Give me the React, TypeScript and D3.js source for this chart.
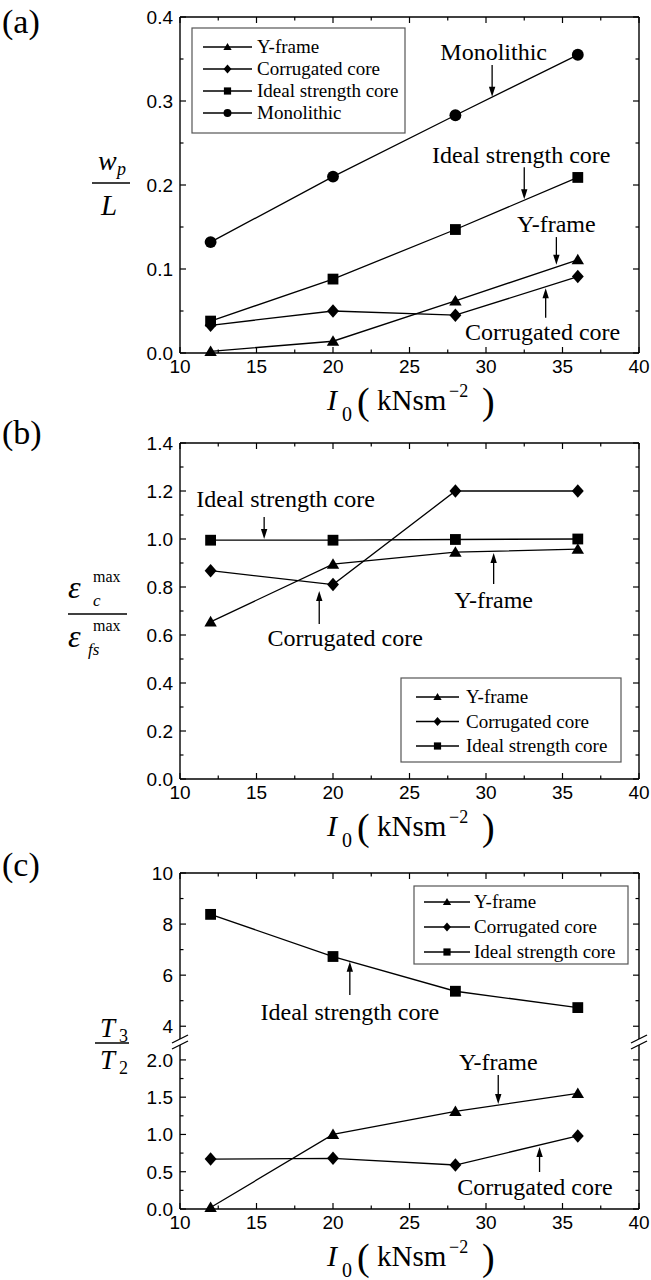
import React from 'react';
import * as d3 from 'd3';

// ---------- data ----------
const xValues = [12, 20, 28, 36];
const xTicks = [10, 15, 20, 25, 30, 35, 40];
const xMinorTicks = [12.5, 17.5, 22.5, 27.5, 32.5, 37.5];

// panel (a): w_p / L
const aYFrame = [0.002, 0.014, 0.062, 0.111];
const aCorrugated = [0.033, 0.05, 0.045, 0.091];
const aIdeal = [0.038, 0.088, 0.147, 0.209];
const aMonolithic = [0.132, 0.21, 0.283, 0.355];
const aYTicks = [0, 0.1, 0.2, 0.3, 0.4];
const aYMinor = [0.05, 0.15, 0.25, 0.35];

// panel (b): eps_c / eps_fs
const bYFrame = [0.655, 0.895, 0.945, 0.958];
const bCorrugated = [0.868, 0.81, 1.2, 1.2];
const bIdeal = [0.995, 0.995, 0.998, 1.0];
const bYTicks = [0, 0.2, 0.4, 0.6, 0.8, 1.0, 1.2, 1.4];
const bYMinor = [0.1, 0.3, 0.5, 0.7, 0.9, 1.1, 1.3];

// panel (c): T3 / T2 (broken axis)
const cIdeal = [8.38, 6.73, 5.37, 4.73];
const cYFrame = [0.02, 1.0, 1.31, 1.55];
const cCorrugated = [0.67, 0.68, 0.59, 0.98];
const cUpperTicks = [4, 6, 8, 10];
const cUpperMinor = [5, 7, 9];
const cLowerTicks = [0, 0.5, 1.0, 1.5, 2.0];
const cLowerMinor = [0.25, 0.75, 1.25, 1.75];

const seriesNames = ['Y-frame', 'Corrugated core', 'Ideal strength core', 'Monolithic'];
const markerTypes = ['triangle', 'diamond', 'square', 'circle'];

// ---------- styling ----------
const SERIF = "'Liberation Serif', 'Times New Roman', serif";
const SANS = "'Liberation Sans', Arial, sans-serif";
const X0 = 180;
const X1 = 639;

const xScale = d3.scaleLinear().domain([10, 40]).range([X0, X1]);

function Marker({ type, x, y, s }: { type: string; x: number; y: number; s: number }) {
  if (type === 'triangle') {
    const p = `M${x},${y - s * 1.1}L${x + s * 1.15},${y + s * 0.85}L${x - s * 1.15},${y + s * 0.85}Z`;
    return <path d={p} fill="#000" />;
  }
  if (type === 'diamond') {
    const p = `M${x},${y - s * 1.25}L${x + s * 1.1},${y}L${x},${y + s * 1.25}L${x - s * 1.1},${y}Z`;
    return <path d={p} fill="#000" />;
  }
  if (type === 'square') {
    return <rect x={x - s} y={y - s} width={2 * s} height={2 * s} fill="#000" />;
  }
  return <circle cx={x} cy={y} r={s * 1.1} fill="#000" />;
}

function Series({ values, yScale, type }: { values: number[]; yScale: any; type: string }) {
  const pts: [number, number][] = values.map((v, i) => [xScale(xValues[i]), yScale(v)]);
  const line = d3.line();
  return (
    <g>
      <path d={line(pts) || ''} fill="none" stroke="#000" strokeWidth={1.3} />
      {pts.map((p, i) => (
        <Marker key={i} type={type} x={p[0]} y={p[1]} s={5.4} />
      ))}
    </g>
  );
}

function Arrow({ x, y1, y2 }: { x: number; y1: number; y2: number }) {
  const dir = y2 > y1 ? 1 : -1;
  const hl = 10;
  const hw = 3.2;
  return (
    <g>
      <line x1={x} y1={y1} x2={x} y2={y2 - dir * hl * 0.8} stroke="#000" strokeWidth={1.3} />
      <path d={`M${x},${y2}L${x - hw},${y2 - dir * hl}L${x + hw},${y2 - dir * hl}Z`} fill="#000" />
    </g>
  );
}

type Ann = { label: string; tx: number; ty: number; ax: number; ay1: number; ay2: number };

function Annotations({ anns, yScale }: { anns: Ann[]; yScale: any }) {
  return (
    <g>
      {anns.map((a, i) => (
        <g key={i}>
          <text x={xScale(a.tx)} y={yScale(a.ty)} textAnchor="middle" fontFamily={SERIF} fontSize={24}>
            {a.label}
          </text>
          <Arrow x={xScale(a.ax)} y1={yScale(a.ay1)} y2={yScale(a.ay2)} />
        </g>
      ))}
    </g>
  );
}

function XAxis({ top, bottom }: { top: number; bottom: number }) {
  return (
    <g>
      {xTicks.map((t) => (
        <g key={'M' + t}>
          <line x1={xScale(t)} x2={xScale(t)} y1={bottom} y2={bottom - 6} stroke="#000" strokeWidth={1.2} />
          <line x1={xScale(t)} x2={xScale(t)} y1={top} y2={top + 6} stroke="#000" strokeWidth={1.2} />
          <text x={xScale(t)} y={bottom + 20} textAnchor="middle" fontFamily={SANS} fontSize={19}>
            {t}
          </text>
        </g>
      ))}
      {xMinorTicks.map((t) => (
        <g key={'m' + t}>
          <line x1={xScale(t)} x2={xScale(t)} y1={bottom} y2={bottom - 3.5} stroke="#000" strokeWidth={1.2} />
          <line x1={xScale(t)} x2={xScale(t)} y1={top} y2={top + 3.5} stroke="#000" strokeWidth={1.2} />
        </g>
      ))}
      <line x1={X0} x2={X1} y1={top} y2={top} stroke="#000" strokeWidth={1.4} />
      <line x1={X0} x2={X1} y1={bottom} y2={bottom} stroke="#000" strokeWidth={1.4} />
      <XTitle baseline={bottom + 57} />
    </g>
  );
}

function YAxis({ yScale, ticks, minor, fmt }: { yScale: any; ticks: number[]; minor: number[]; fmt: (v: number) => string }) {
  const [r0, r1] = yScale.range();
  return (
    <g>
      {ticks.map((t) => (
        <g key={'M' + t}>
          <line x1={X0} x2={X0 + 6} y1={yScale(t)} y2={yScale(t)} stroke="#000" strokeWidth={1.2} />
          <line x1={X1} x2={X1 - 6} y1={yScale(t)} y2={yScale(t)} stroke="#000" strokeWidth={1.2} />
          <text x={X0 - 7} y={yScale(t) + 7} textAnchor="end" fontFamily={SANS} fontSize={19}>
            {fmt(t)}
          </text>
        </g>
      ))}
      {minor.map((t) => (
        <g key={'m' + t}>
          <line x1={X0} x2={X0 + 3.5} y1={yScale(t)} y2={yScale(t)} stroke="#000" strokeWidth={1.2} />
          <line x1={X1} x2={X1 - 3.5} y1={yScale(t)} y2={yScale(t)} stroke="#000" strokeWidth={1.2} />
        </g>
      ))}
      <line x1={X0} x2={X0} y1={r0} y2={r1} stroke="#000" strokeWidth={1.4} />
      <line x1={X1} x2={X1} y1={r0} y2={r1} stroke="#000" strokeWidth={1.4} />
    </g>
  );
}

function XTitle({ baseline }: { baseline: number }) {
  const B = baseline;
  return (
    <g fontFamily={SERIF}>
      <text x={327} y={B} fontSize={30} fontStyle="italic">I</text>
      <text x={342} y={B + 11} fontSize={20}>0</text>
      <text x={357} y={B + 4} fontSize={38}>(</text>
      <text x={377} y={B} fontSize={29}>kNsm</text>
      <text x={449} y={B - 13} fontSize={18}>−2</text>
      <text x={482} y={B + 4} fontSize={38}>)</text>
    </g>
  );
}

function Legend({ x, y, w, h, rows, lineX0, lineX1, textX, names, types }: any) {
  return (
    <g>
      <rect x={x} y={y} width={w} height={h} fill="#fff" stroke="#555" strokeWidth={1.2} />
      {names.map((n: string, i: number) => (
        <g key={n}>
          <line x1={lineX0} x2={lineX1} y1={rows[i]} y2={rows[i]} stroke="#000" strokeWidth={1.3} />
          <Marker type={types[i]} x={(lineX0 + lineX1) / 2} y={rows[i]} s={3.6} />
          <text x={textX} y={rows[i] + 6} fontFamily={SERIF} fontSize={19}>
            {n}
          </text>
        </g>
      ))}
    </g>
  );
}

// ---------- panels ----------
function PanelA() {
  const top = 17, bottom = 353;
  const y = d3.scaleLinear().domain([0, 0.4]).range([bottom, top]);
  const anns: Ann[] = [
    { label: 'Monolithic', tx: 30.5, ty: 0.349, ax: 30.4, ay1: 0.343, ay2: 0.305 },
    { label: 'Ideal strength core', tx: 32.3, ty: 0.226, ax: 32.5, ay1: 0.221, ay2: 0.183 },
    { label: 'Y-frame', tx: 34.6, ty: 0.144, ax: 34.6, ay1: 0.138, ay2: 0.105 },
    { label: 'Corrugated core', tx: 33.7, ty: 0.0155, ax: 33.9, ay1: 0.042, ay2: 0.077 },
  ];
  return (
    <g>
      <text x={2} y={33} fontFamily={SERIF} fontSize={34}>(a)</text>
      <YAxis yScale={y} ticks={aYTicks} minor={aYMinor} fmt={(v) => v.toFixed(1)} />
      <XAxis top={top} bottom={bottom} />
      <Legend x={192} y={28} w={213} h={105} rows={[47, 69, 91, 113]} lineX0={203} lineX1={252} textX={257}
        names={seriesNames} types={markerTypes} />
      <Series values={aYFrame} yScale={y} type="triangle" />
      <Series values={aCorrugated} yScale={y} type="diamond" />
      <Series values={aIdeal} yScale={y} type="square" />
      <Series values={aMonolithic} yScale={y} type="circle" />
      <Annotations anns={anns} yScale={y} />
      <g fontFamily={SERIF} fontStyle="italic">
        <text x={98} y={170} fontSize={28}>w</text>
        <text x={117} y={175} fontSize={18}>p</text>
        <line x1={92} x2={130} y1={183} y2={183} stroke="#000" strokeWidth={1.3} />
        <text x={101} y={215} fontSize={29}>L</text>
      </g>
    </g>
  );
}

function PanelB() {
  const top = 443, bottom = 779;
  const y = d3.scaleLinear().domain([0, 1.4]).range([bottom, top]);
  const anns: Ann[] = [
    { label: 'Ideal strength core', tx: 16.9, ty: 1.133, ax: 15.5, ay1: 1.092, ay2: 1.0 },
    { label: 'Corrugated core', tx: 20.8, ty: 0.554, ax: 19.1, ay1: 0.646, ay2: 0.783 },
    { label: 'Y-frame', tx: 30.5, ty: 0.7125, ax: 30.5, ay1: 0.8125, ay2: 0.942 },
  ];
  return (
    <g>
      <text x={2} y={444} fontFamily={SERIF} fontSize={34}>(b)</text>
      <YAxis yScale={y} ticks={bYTicks} minor={bYMinor} fmt={(v) => v.toFixed(1)} />
      <XAxis top={top} bottom={bottom} />
      <Legend x={401} y={678} w={220} h={84} rows={[697, 721.5, 746]} lineX0={416} lineX1={459} textX={466}
        names={seriesNames.slice(0, 3)} types={markerTypes.slice(0, 3)} />
      <Series values={bYFrame} yScale={y} type="triangle" />
      <Series values={bCorrugated} yScale={y} type="diamond" />
      <Series values={bIdeal} yScale={y} type="square" />
      <Annotations anns={anns} yScale={y} />
      <g fontFamily={SERIF}>
        <text x={68} y={598} fontSize={32} fontStyle="italic">ε</text>
        <text x={93} y={582} fontSize={16}>max</text>
        <text x={93} y={606} fontSize={17} fontStyle="italic">c</text>
        <line x1={68} x2={127} y1={614} y2={614} stroke="#000" strokeWidth={1.3} />
        <text x={68} y={647} fontSize={32} fontStyle="italic">ε</text>
        <text x={93} y={631} fontSize={16}>max</text>
        <text x={88} y={655} fontSize={17} fontStyle="italic">fs</text>
      </g>
    </g>
  );
}

function PanelC() {
  const top = 873, bottom = 1209;
  const upTop = 873, upBot = 1039, loTop = 1045, loBot = 1209;
  const yUp = d3.scaleLinear().domain([3.5, 10]).range([upBot, upTop]);
  const yLo = d3.scaleLinear().domain([0, 2.2]).range([loBot, loTop]);
  const annsUp: Ann[] = [{ label: 'Ideal strength core', tx: 21.1, ty: 4.24, ax: 21.1, ay1: 5.22, ay2: 6.52 }];
  const annsLo: Ann[] = [
    { label: 'Y-frame', tx: 30.8, ty: 1.865, ax: 30.8, ay1: 1.797, ay2: 1.408 },
    { label: 'Corrugated core', tx: 33.2, ty: 0.188, ax: 33.5, ay1: 0.496, ay2: 0.832 },
  ];
  const breaks = [upBot, loTop];
  return (
    <g>
      <text x={2} y={876} fontFamily={SERIF} fontSize={34}>(c)</text>
      <YAxis yScale={yUp} ticks={cUpperTicks} minor={cUpperMinor} fmt={(v) => String(v)} />
      <YAxis yScale={yLo} ticks={cLowerTicks} minor={cLowerMinor} fmt={(v) => v.toFixed(1)} />
      {[X0, X1].map((bx) =>
        breaks.map((by) => (
          <line key={bx + '-' + by} x1={bx - 8} y1={by + 4} x2={bx + 8} y2={by - 4} stroke="#000" strokeWidth={1.3} />
        ))
      )}
      <XAxis top={top} bottom={bottom} />
      <Legend x={414} y={886} w={214} h={78} rows={[902, 927, 952]} lineX0={424} lineX1={470} textX={474}
        names={seriesNames.slice(0, 3)} types={markerTypes.slice(0, 3)} />
      <Series values={cIdeal} yScale={yUp} type="square" />
      <Series values={cYFrame} yScale={yLo} type="triangle" />
      <Series values={cCorrugated} yScale={yLo} type="diamond" />
      <Annotations anns={annsUp} yScale={yUp} />
      <Annotations anns={annsLo} yScale={yLo} />
      <g fontFamily={SERIF}>
        <text x={100} y={1037} fontSize={27} fontStyle="italic">T</text>
        <text x={119} y={1042} fontSize={18}>3</text>
        <line x1={95} x2={129} y1={1043} y2={1043} stroke="#000" strokeWidth={1.3} />
        <text x={100} y={1069} fontSize={27} fontStyle="italic">T</text>
        <text x={119} y={1074} fontSize={18}>2</text>
      </g>
    </g>
  );
}

export default function App() {
  return (
    <svg width={651} height={1280} style={{ position: 'absolute', left: 0, top: 0, background: '#fff' }}>
      <rect x={0} y={0} width={651} height={1280} fill="#fff" />
      <PanelA />
      <PanelB />
      <PanelC />
    </svg>
  );
}
